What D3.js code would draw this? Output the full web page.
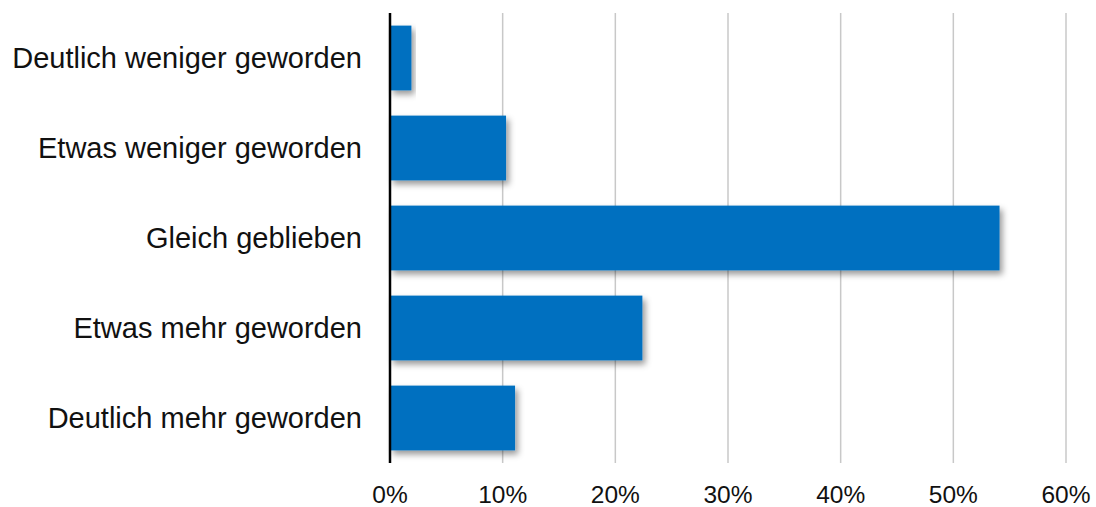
<!DOCTYPE html>
<html>
<head>
<meta charset="utf-8">
<script src="https://cdn.jsdelivr.net/npm/d3@7"></script>
<style>
  body { margin: 0; background: #fff; }
  svg { display: block; font-family: "Liberation Sans", Arial, sans-serif; }
</style>
</head>
<body>
<div id="vis-container"></div>
<script>
var categories = ["Deutlich weniger geworden", "Etwas weniger geworden", "Gleich geblieben", "Etwas mehr geworden", "Deutlich mehr geworden"];
var values = [1.9, 10.3, 54.1, 22.4, 11.1];
var ticks = [0, 10, 20, 30, 40, 50, 60];

var width = 1096, height = 507;
var x0 = 390, x1 = 1066, yTop = 13, yBottom = 463;

var xScale = d3.scaleLinear().domain([0, 60]).range([x0, x1]);
var yScale = d3.scaleBand().domain(categories).range([yTop, yBottom]).paddingInner(0.28).paddingOuter(0.14);

var svg = d3.select("#vis-container").append("svg")
  .attr("width", width).attr("height", height);

// drop shadow for bars
var defs = svg.append("defs");
var f = defs.append("filter").attr("id", "shadow")
  .attr("x", "-10%").attr("y", "-10%").attr("width", "130%").attr("height", "140%");
f.append("feDropShadow").attr("dx", 3).attr("dy", 4).attr("stdDeviation", 3)
  .attr("flood-color", "#000").attr("flood-opacity", 0.4);

// gridlines
svg.append("g").selectAll("line")
  .data(ticks.filter(function(d) { return d > 0; }))
  .enter().append("line")
  .attr("x1", function(d) { return xScale(d); })
  .attr("x2", function(d) { return xScale(d); })
  .attr("y1", yTop).attr("y2", yBottom)
  .style("stroke", "#c8c8c8").style("stroke-width", 1.5);

// bars
svg.append("g").selectAll("rect")
  .data(values).enter().append("rect")
  .attr("x", xScale(0))
  .attr("y", function(d, i) { return yScale(categories[i]); })
  .attr("width", function(d) { return xScale(d) - xScale(0); })
  .attr("height", yScale.bandwidth())
  .style("fill", "#0570c0")
  .attr("filter", "url(#shadow)");

// y axis line
svg.append("line")
  .attr("x1", x0).attr("x2", x0).attr("y1", yTop).attr("y2", yBottom)
  .style("stroke", "#000").style("stroke-width", 2.5);

// category labels
svg.append("g").selectAll("text")
  .data(categories).enter().append("text")
  .attr("x", x0 - 28)
  .attr("y", function(d) { return yScale(d) + yScale.bandwidth() / 2; })
  .attr("dy", "0.35em")
  .style("text-anchor", "end")
  .style("font-size", "29px")
  .style("fill", "#111")
  .text(function(d) { return d; });

// x tick labels
svg.append("g").selectAll("text")
  .data(ticks).enter().append("text")
  .attr("x", function(d) { return xScale(d); })
  .attr("y", 503)
  .style("text-anchor", "middle")
  .style("font-size", "24.5px")
  .style("fill", "#111")
  .text(function(d) { return d + "%"; });
</script>
</body>
</html>
